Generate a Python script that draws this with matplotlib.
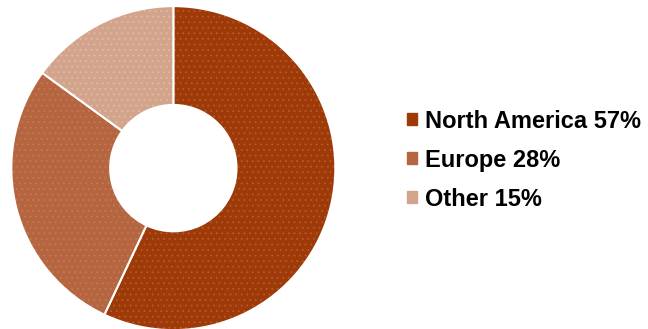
import matplotlib.pyplot as plt
import matplotlib.patches as mpatches

plt.rcParams['font.family'] = ['Liberation Sans', 'DejaVu Sans']
plt.rcParams['hatch.linewidth'] = 0.6

regions = ['North America', 'Europe', 'Other']
shares = [57, 28, 15]
colors = ['#9E3A08', '#B5653F', '#D3A48C']
dot_colors = ['#B65A2E', '#C47A58', '#E0BBA8']

fig = plt.figure(figsize=(6.48, 3.29), dpi=100)
ax = fig.add_axes([0.015, -0.011, 0.505, 1.0])

wedges, _ = ax.pie(shares, colors=colors, startangle=90, counterclock=False,
                   radius=1.0, wedgeprops=dict(width=0.61, edgecolor='white', linewidth=1.5))
for w, dc in zip(wedges, dot_colors):
    w.set_hatch('...')
    w._hatch_color = plt.matplotlib.colors.to_rgba(dc)
ax.set_aspect('equal')
ax.set_xlim(-1.01, 1.01)
ax.set_ylim(-1.01, 1.01)

handles = [mpatches.Patch(color=c, label=f'{r} {s}%') for r, s, c in zip(regions, shares, colors)]
fig.legend(handles=handles, loc='center left', bbox_to_anchor=(0.6136, 0.513), frameon=False,
           borderaxespad=0, prop={'size': 17, 'weight': 'bold'}, handlelength=0.4,
           handleheight=0.4, handletextpad=0.34, labelspacing=0.68)

fig.savefig('out.png', dpi=100)
